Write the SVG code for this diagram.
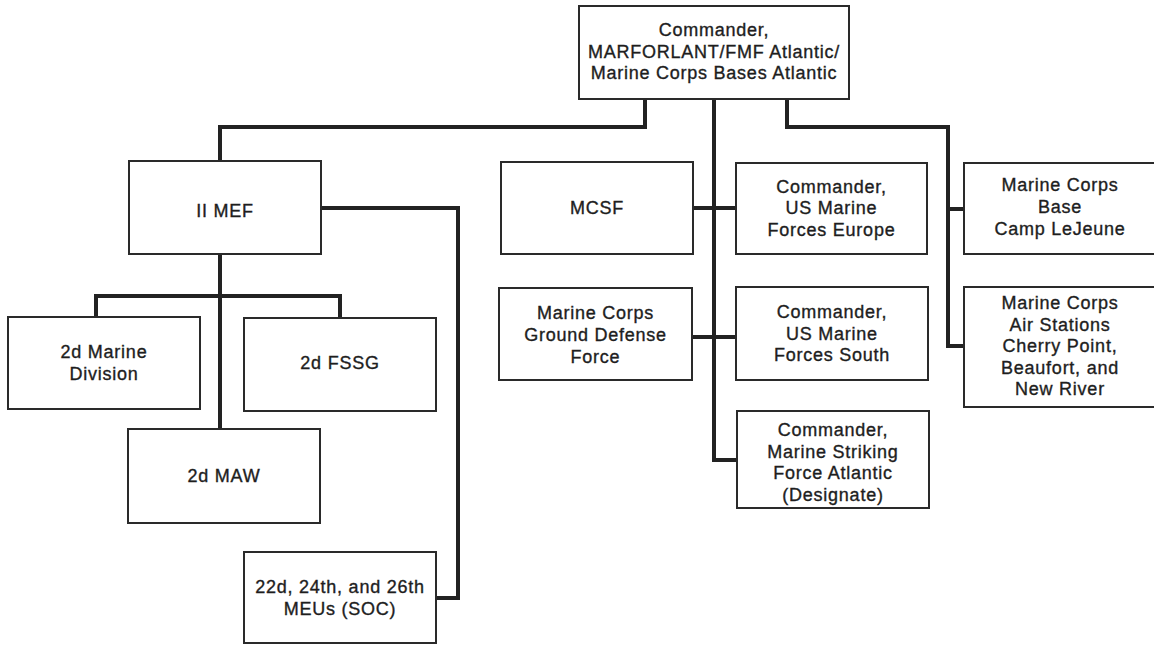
<svg xmlns="http://www.w3.org/2000/svg" width="1154" height="645" viewBox="0 0 1154 645">
<style>
.box{fill:#fff;stroke:#2a2a2a;stroke-width:2}
.conn{fill:none;stroke:#222;stroke-width:4;stroke-linejoin:miter}
text{font-family:"Liberation Sans",Arial,sans-serif;font-size:18px;letter-spacing:0.75px;fill:#1e1e1e;stroke:#1e1e1e;stroke-width:0.35;text-anchor:middle}
</style>
<rect width="1154" height="645" fill="#fff"/>
<g id="connectors">
<path class="conn" d="M645,99 V127 H220 V161"/>
<path class="conn" d="M714,99 V460 H737"/>
<path class="conn" d="M787,99 V127 H948 V346 H964"/>
<path class="conn" d="M948,209 H964"/>
<path class="conn" d="M693,208 H736"/>
<path class="conn" d="M692,337 H736"/>
<path class="conn" d="M321,208 H458 V598 H436"/>
<path class="conn" d="M220,254 V429"/>
<path class="conn" d="M96,317 V296 H340 V318"/>
</g>
<g id="commander">
<rect class="box" x="579" y="6" width="270" height="93"/>
<text x="714" y="36">Commander,</text>
<text x="714" y="57.5">MARFORLANT/FMF Atlantic/</text>
<text x="714" y="79">Marine Corps Bases Atlantic</text>
</g>
<g id="iimef">
<rect class="box" x="129" y="161" width="192" height="93"/>
<text x="225" y="217">II MEF</text>
</g>
<g id="mcsf">
<rect class="box" x="501" y="162" width="192" height="92"/>
<text x="597" y="214">MCSF</text>
</g>
<g id="europe">
<rect class="box" x="736" y="163" width="191" height="91"/>
<text x="831.5" y="192.5">Commander,</text>
<text x="831.5" y="214">US Marine</text>
<text x="831.5" y="235.5">Forces Europe</text>
</g>
<g id="lejeune">
<rect class="box" x="964" y="163" width="192" height="91"/>
<text x="1060" y="191">Marine Corps</text>
<text x="1060" y="213">Base</text>
<text x="1060" y="235">Camp LeJeune</text>
</g>
<g id="gdf">
<rect class="box" x="499" y="288" width="193" height="92"/>
<text x="595.5" y="319">Marine Corps</text>
<text x="595.5" y="341">Ground Defense</text>
<text x="595.5" y="363">Force</text>
</g>
<g id="south">
<rect class="box" x="736" y="287" width="192" height="93"/>
<text x="832" y="318">Commander,</text>
<text x="832" y="339.5">US Marine</text>
<text x="832" y="361">Forces South</text>
</g>
<g id="airstations">
<rect class="box" x="964" y="287" width="192" height="120"/>
<text x="1060" y="309">Marine Corps</text>
<text x="1060" y="330.5">Air Stations</text>
<text x="1060" y="352">Cherry Point,</text>
<text x="1060" y="373.5">Beaufort, and</text>
<text x="1060" y="395">New River</text>
</g>
<g id="striking">
<rect class="box" x="737" y="411" width="192" height="97"/>
<text x="833" y="436">Commander,</text>
<text x="833" y="457.5">Marine Striking</text>
<text x="833" y="479">Force Atlantic</text>
<text x="833" y="500.5">(Designate)</text>
</g>
<g id="division">
<rect class="box" x="8" y="317" width="192" height="92"/>
<text x="104" y="358">2d Marine</text>
<text x="104" y="380">Division</text>
</g>
<g id="fssg">
<rect class="box" x="244" y="318" width="192" height="93"/>
<text x="340" y="369">2d FSSG</text>
</g>
<g id="maw">
<rect class="box" x="128" y="429" width="192" height="94"/>
<text x="224" y="482">2d MAW</text>
</g>
<g id="meus">
<rect class="box" x="244" y="552" width="192" height="91"/>
<text x="340" y="593">22d, 24th, and 26th</text>
<text x="340" y="615">MEUs (SOC)</text>
</g>
</svg>
